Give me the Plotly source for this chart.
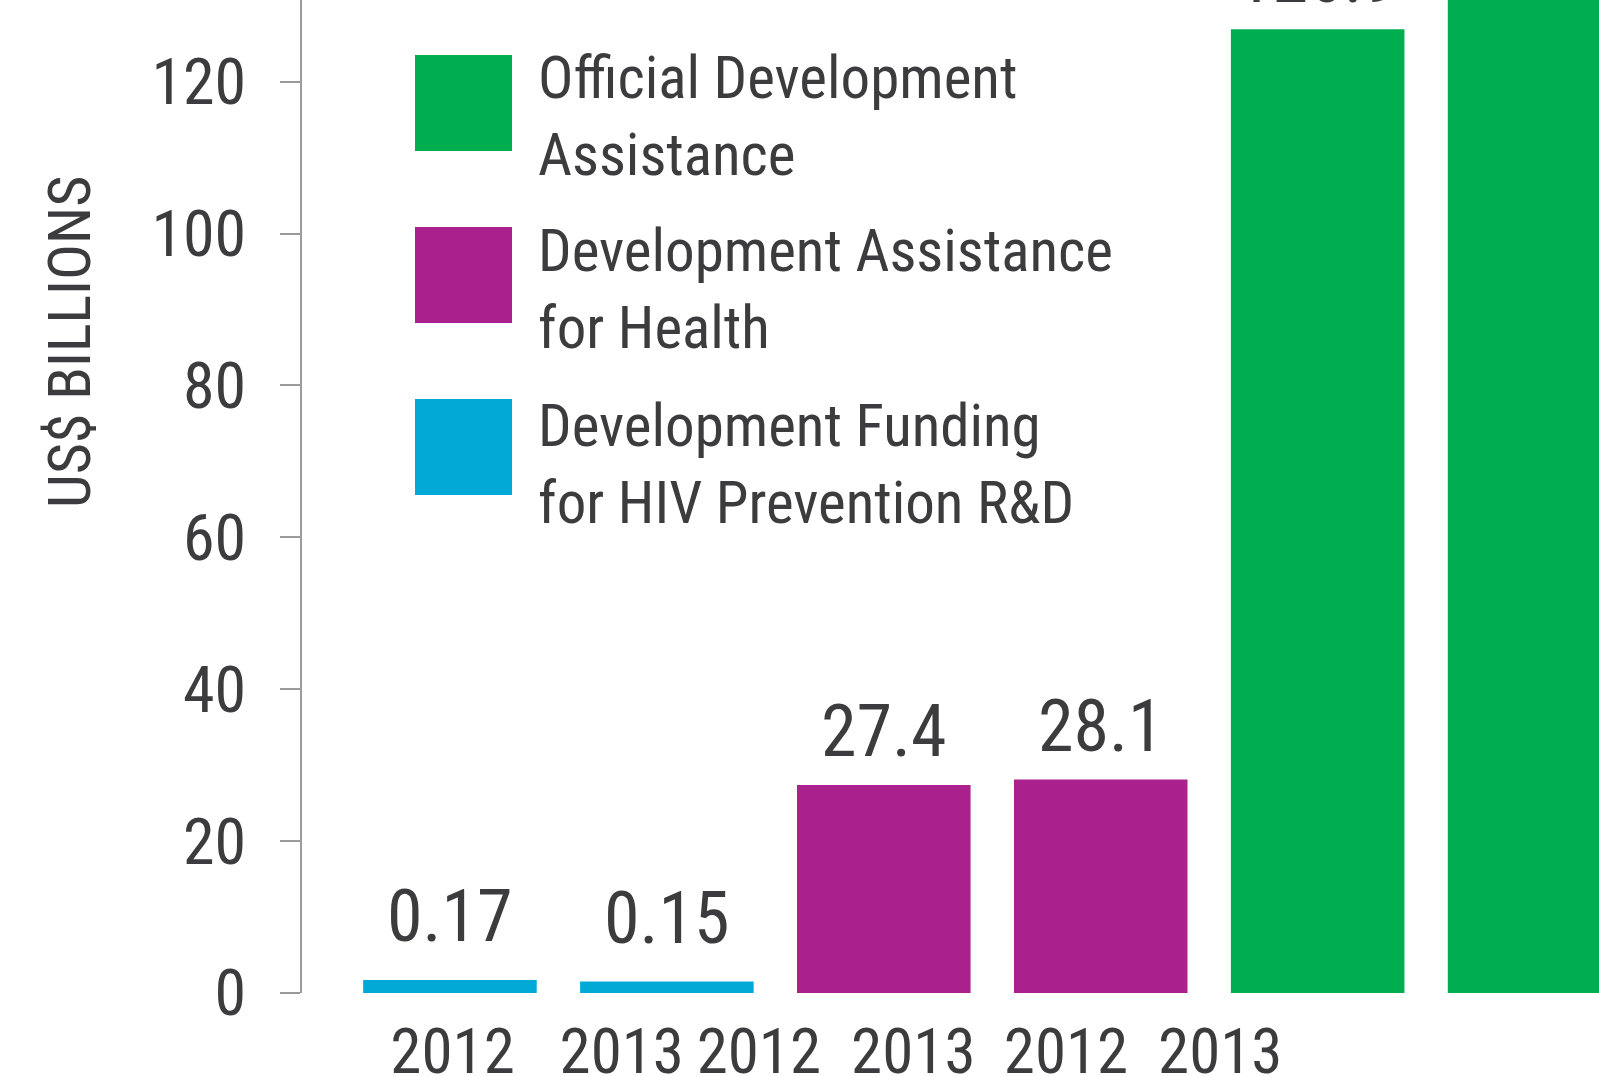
import plotly.graph_objects as go

# ---------------- data ----------------
years = ["2012", "2013"]
hiv_name = "Development Funding\nfor HIV Prevention R&D"
dah_name = "Development Assistance\nfor Health"
oda_name = "Official Development\nAssistance"
hiv_values = [0.17, 0.15]
dah_values = [27.4, 28.1]
oda_values = [126.9, 134.8]
y_ticks = [0, 20, 40, 60, 80, 100, 120]
y_title = "US$ BILLIONS"

# ---------------- style ----------------
FONT = "Roboto Condensed, Liberation Sans Narrow, Arial Narrow, Roboto, sans-serif"
TXT = "#3c3c3e"
AX = "#9a9a9a"
C_HIV, C_DAH, C_ODA = "#00a9d6", "#aa218d", "#00ae4f"
W, H = 1599, 1076
ML, MB = 302, 83
PW, PH = W - ML, H - MB
# the source exaggerates the tiny HIV bars (x10) so that they are visible
hiv_display_scale = 10
x_label_pos = [0.012, 0.792, 1.424, 2.136, 2.840, 3.551]

def px(x):
    return (x - ML) / PW

def py(y):
    return 1 - y / PH

groups = [
    (hiv_name, hiv_values, C_HIV, hiv_display_scale, 19),
    (dah_name, dah_values, C_DAH, 1, 9),
    (oda_name, oda_values, C_ODA, 1, 7),
]

fig = go.Figure()
annotations = []
xi = 0
for name, vals, col, scale, shift in groups:
    xs = [xi + k for k in range(len(vals))]
    ys = [v * scale for v in vals]
    fig.add_trace(go.Bar(x=xs, y=ys, name=name.replace("\n", " "), marker=dict(color=col, line=dict(width=0)),
                         width=0.8, showlegend=False, hoverinfo="skip"))
    for x, y, v in zip(xs, ys, vals):
        annotations.append(dict(x=x, y=y, xref="x", yref="y", text=f"{v:g}", showarrow=False,
                                xanchor="center", yanchor="bottom", yshift=shift,
                                font=dict(family=FONT, size=72, color=TXT)))
    xi += len(vals)

# custom legend (large square swatches)
legend_items = [(oda_name, C_ODA, 55, 99), (dah_name, C_DAH, 227, 272), (hiv_name, C_HIV, 399, 447)]
shapes = []
for name, col, top, base in legend_items:
    shapes.append(dict(type="rect", xref="paper", yref="paper", x0=px(415), x1=px(512),
                       y0=py(top + 96), y1=py(top), fillcolor=col, line=dict(width=0), layer="above"))
    for j, line in enumerate(name.split("\n")):
        annotations.append(dict(x=px(536), y=py(base + j * 77), xref="paper", yref="paper", text=line,
                                showarrow=False, xanchor="left", yanchor="bottom", yshift=-15,
                                font=dict(family=FONT, size=59, color=TXT)))

annotations.append(dict(x=px(69), y=py(342), xref="paper", yref="paper", text=y_title, textangle=-90,
                        showarrow=False, xanchor="center", yanchor="middle",
                        font=dict(family=FONT, size=60, color=TXT)))

fig.update_layout(
    width=W, height=H,
    margin=dict(l=ML, r=0, t=0, b=MB),
    paper_bgcolor="white", plot_bgcolor="white",
    showlegend=False,
    bargap=0.2,
    annotations=annotations,
    shapes=shapes,
    xaxis=dict(range=[-0.682, 5.297], tickmode="array", tickvals=x_label_pos, ticktext=years * 3,
               showgrid=False, zeroline=False, showline=False, ticks="", tickangle=0, automargin=False,
               tickfont=dict(family=FONT, size=63, color=TXT), ticklabelstandoff=16, fixedrange=True),
    yaxis=dict(range=[0, 130.76], tickmode="array", tickvals=y_ticks, showgrid=False, zeroline=False,
               showline=True, linecolor=AX, linewidth=2, ticks="outside", ticklen=20, tickwidth=2,
               tickcolor=AX, tickfont=dict(family=FONT, size=64, color=TXT), ticklabelstandoff=21,
               automargin=False, fixedrange=True),
)

fig.write_html("out.html", config={"displayModeBar": False})
